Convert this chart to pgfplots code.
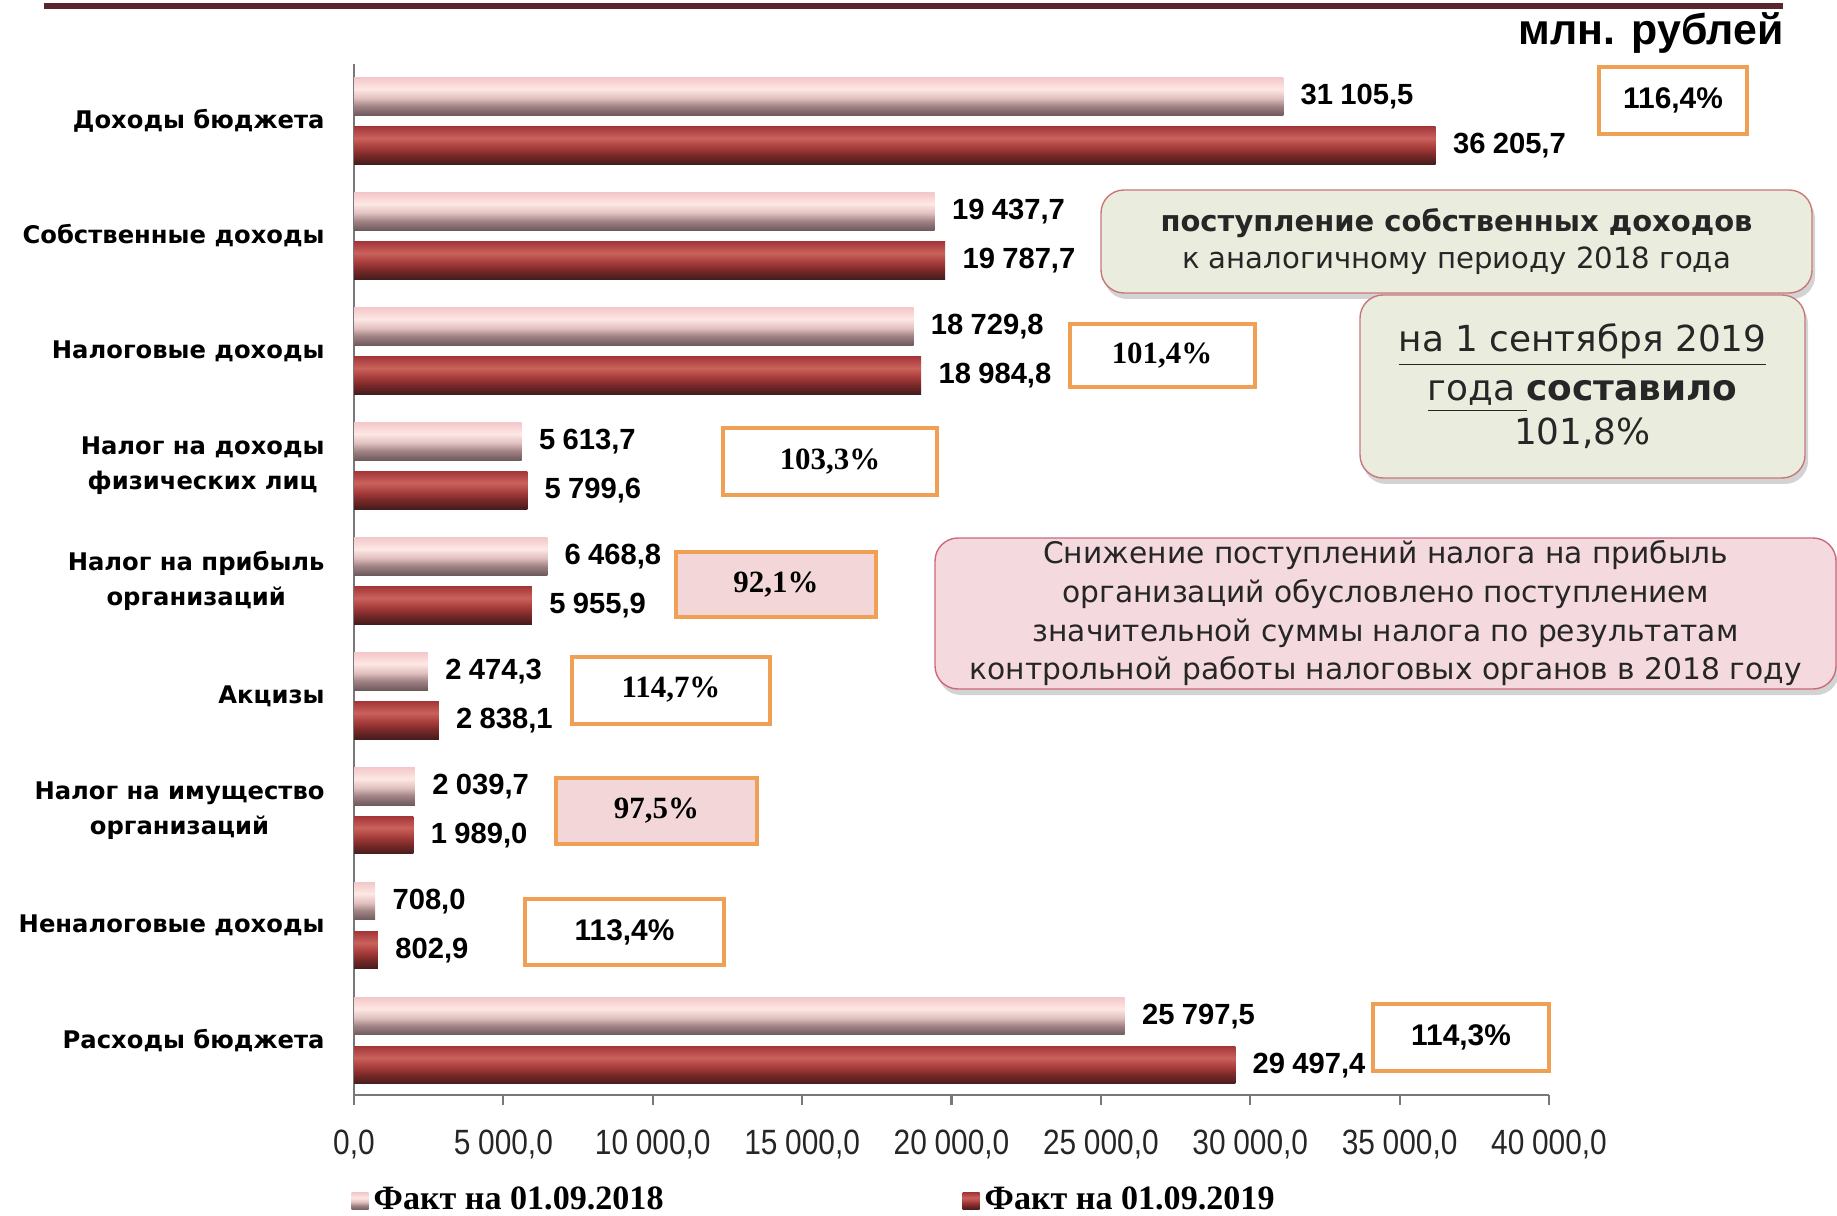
\documentclass[border=0pt]{standalone}
\usepackage{fontspec}
\usepackage{pgfplots}
\pgfplotsset{compat=1.18}
\usetikzlibrary{shadows}
\setmainfont{DejaVu Sans}
\newfontfamily\lsans{Liberation Sans}
\newfontfamily\lsanscond[FakeStretch=0.85]{Liberation Sans}
\newfontfamily\lserif{Liberation Serif}

\definecolor{boxorange}{RGB}{240,160,85}
\definecolor{boxpink}{RGB}{243,215,216}
\definecolor{greenfill}{RGB}{234,237,222}
\definecolor{greenborder}{RGB}{200,120,120}
\definecolor{pinkfill}{RGB}{244,218,222}
\definecolor{pinkborder}{RGB}{205,105,120}
\definecolor{topline}{RGB}{88,38,44}
\definecolor{axisgray}{RGB}{120,120,120}

\definecolor{sa1}{RGB}{110,90,92}
\definecolor{sa2}{RGB}{160,130,132}
\definecolor{sa3}{RGB}{225,192,192}
\definecolor{sa4}{RGB}{253,232,228}
\definecolor{sa5}{RGB}{244,200,202}
\pgfdeclareverticalshading{bar18}{100bp}{color(0bp)=(sa1); color(25bp)=(sa1); color(37bp)=(sa2); color(48bp)=(sa3); color(60bp)=(sa4); color(75bp)=(sa5); color(100bp)=(sa5)}

\definecolor{sb1}{RGB}{70,28,28}
\definecolor{sb2}{RGB}{120,40,40}
\definecolor{sb3}{RGB}{168,62,60}
\definecolor{sb4}{RGB}{202,98,92}
\definecolor{sb5}{RGB}{165,55,58}
\pgfdeclareverticalshading{bar19}{100bp}{color(0bp)=(sb1); color(25bp)=(sb1); color(37bp)=(sb2); color(48bp)=(sb3); color(60bp)=(sb4); color(75bp)=(sb5); color(100bp)=(sb5)}

\pgfplotsset{
  st18/.style={draw=none, shading=bar18, bar shift=0.213,
    legend image code/.code={\path[shading=bar18] (0mm,-0.85mm) rectangle (1.7mm,0.85mm);}},
  st19/.style={draw=none, shading=bar19, bar shift=-0.213,
    legend image code/.code={\path[shading=bar19] (0mm,-0.85mm) rectangle (1.7mm,0.85mm);}},
}

\begin{document}
\begin{tikzpicture}
\useasboundingbox (0,0) rectangle (18.37,12.15);

% top rule and unit
\draw[topline, line width=0.6mm] (0.44,12.09) -- (17.83,12.09);
\node[anchor=east, inner sep=0pt, font=\lsans\fontsize{12.2}{14}\selectfont\bfseries] at (17.84,11.82) {млн. рублей};

\begin{axis}[
  at={(3.54cm,1.20cm)}, anchor=south west,
  scale only axis, width=11.95cm, height=10.31cm,
  xmin=0, xmax=40000, ymin=-0.472, ymax=8.496,
  clip=false,
  xbar, bar width=0.325,
  axis x line*=bottom, axis y line*=left,
  axis line style={draw=axisgray, line width=0.6pt, -},
  xtick={0,5000,...,40000},
  scaled x ticks=false,
  ytick={0,...,8},
  yticklabels={Расходы бюджета, Неналоговые доходы, {Налог на имущество\\организаций}, Акцизы, {Налог на прибыль\\организаций}, {Налог на доходы\\физических лиц}, Налоговые доходы, Собственные доходы, Доходы бюджета},
  y tick style={draw=none},
  x tick style={draw=axisgray, line width=0.6pt},
  tick align=outside,
  major tick length=1mm,
  x tick label style={/pgf/number format/.cd, fixed, fixed zerofill, precision=1, use comma, 1000 sep={\hspace{0.22em}}, assume math mode=true, /tikz/.cd, font=\lsanscond\fontsize{10}{12}\selectfont, text=black!85, yshift=-1.3mm},
  y tick label style={font=\fontsize{6.9}{10}\selectfont\bfseries, align=center, xshift=-0.7mm},
  point meta=x,
  nodes near coords={\pgfmathprintnumber[fixed,fixed zerofill,precision=1,use comma,1000 sep={\hspace{0.25em}},assume math mode=true]{\pgfplotspointmeta}},
  nodes near coords style={anchor=west, font=\lsans\fontsize{8.3}{10}\selectfont\bfseries, text=black, xshift=0.5mm},
  legend columns=2,
  legend cell align=left,
  legend style={at={(-0.0025,-0.103)}, anchor=west, draw=none, fill=none, inner sep=0pt,
    font=\lserif\fontsize{9.7}{11}\selectfont\bfseries,
    nodes={inner sep=0.5mm},
    /tikz/every even column/.append style={column sep=0pt}},
]
% Fact on 01.09.2018
\addplot[st18] coordinates {(31105.5,8)};
\addlegendentry{\makebox[58.4mm][l]{Факт на 01.09.2018}}
\addplot[st18, forget plot] coordinates {(19437.7,7)};
\addplot[st18, forget plot] coordinates {(18729.8,6)};
\addplot[st18, forget plot] coordinates {(5613.7,5)};
\addplot[st18, forget plot] coordinates {(6468.8,4)};
\addplot[st18, forget plot] coordinates {(2474.3,3)};
\addplot[st18, forget plot] coordinates {(2039.7,2)};
\addplot[st18, forget plot] coordinates {(708.0,1)};
\addplot[st18, forget plot] coordinates {(25797.5,0)};
% Fact on 01.09.2019
\addplot[st19] coordinates {(36205.7,8)};
\addlegendentry{Факт на 01.09.2019}
\addplot[st19, forget plot] coordinates {(19787.7,7)};
\addplot[st19, forget plot] coordinates {(18984.8,6)};
\addplot[st19, forget plot] coordinates {(5799.6,5)};
\addplot[st19, forget plot] coordinates {(5955.9,4)};
\addplot[st19, forget plot] coordinates {(2838.1,3)};
\addplot[st19, forget plot] coordinates {(1989.0,2)};
\addplot[st19, forget plot] coordinates {(802.9,1)};
\addplot[st19, forget plot] coordinates {(29497.4,0)};
\end{axis}

% percentage boxes
\tikzset{pbox/.style={draw=boxorange, line width=0.4mm, fill=white, inner sep=0pt, align=center},
  psans/.style={font=\lsans\fontsize{8.5}{10}\selectfont\bfseries},
  pserif/.style={font=\lserif\fontsize{8.8}{10}\selectfont\bfseries}}
\node[pbox, psans, minimum width=1.48cm, minimum height=0.67cm] at (16.73,11.145) {116,4\%};
\node[pbox, pserif, minimum width=1.85cm, minimum height=0.63cm] at (11.62,8.59) {101,4\%};
\node[pbox, pserif, minimum width=2.14cm, minimum height=0.67cm] at (8.30,7.53) {103,3\%};
\node[pbox, pserif, fill=boxpink, minimum width=2.00cm, minimum height=0.65cm] at (7.76,6.30) {92,1\%};
\node[pbox, pserif, minimum width=1.98cm, minimum height=0.67cm] at (6.71,5.25) {114,7\%};
\node[pbox, pserif, fill=boxpink, minimum width=2.01cm, minimum height=0.66cm] at (6.565,4.04) {97,5\%};
\node[pbox, psans, minimum width=1.99cm, minimum height=0.66cm] at (6.245,2.83) {113,4\%};
\node[pbox, psans, minimum width=1.76cm, minimum height=0.67cm] at (14.61,1.775) {114,3\%};

% comment boxes
\tikzset{cbox/.style={rounded corners=2.3mm, line width=0.4pt, inner sep=0pt, align=center,
  drop shadow={shadow xshift=0.3mm, shadow yshift=-0.6mm, opacity=0.35}}}
\node[cbox, draw=greenborder, fill=greenfill, minimum width=7.11cm, minimum height=1.03cm, text=black!85] at (14.565,9.735)
  {{\fontsize{8.25}{11}\selectfont\bfseries поступление собственных доходов}\\[-0.5mm]{\fontsize{8.3}{11}\selectfont к аналогичному периоду 2018 года}};
\node[cbox, draw=greenborder, fill=greenfill, minimum width=4.45cm, minimum height=1.83cm, text=black!85,
  font=\fontsize{10.2}{12.5}\selectfont] at (15.825,8.285)
  {\underline{на 1 сентября 2019}\\[0.5mm]\underline{года\ }\textbf{составило}\\101,8\%};
\node[cbox, draw=pinkborder, fill=pinkfill, minimum width=9.01cm, minimum height=1.51cm, text=black!85,
  font=\fontsize{8.45}{11}\selectfont] at (13.855,6.015)
  {Снижение поступлений налога на прибыль\\организаций обусловлено поступлением\\значительной суммы налога по результатам\\контрольной работы налоговых органов в 2018 году};
\end{tikzpicture}
\end{document}
